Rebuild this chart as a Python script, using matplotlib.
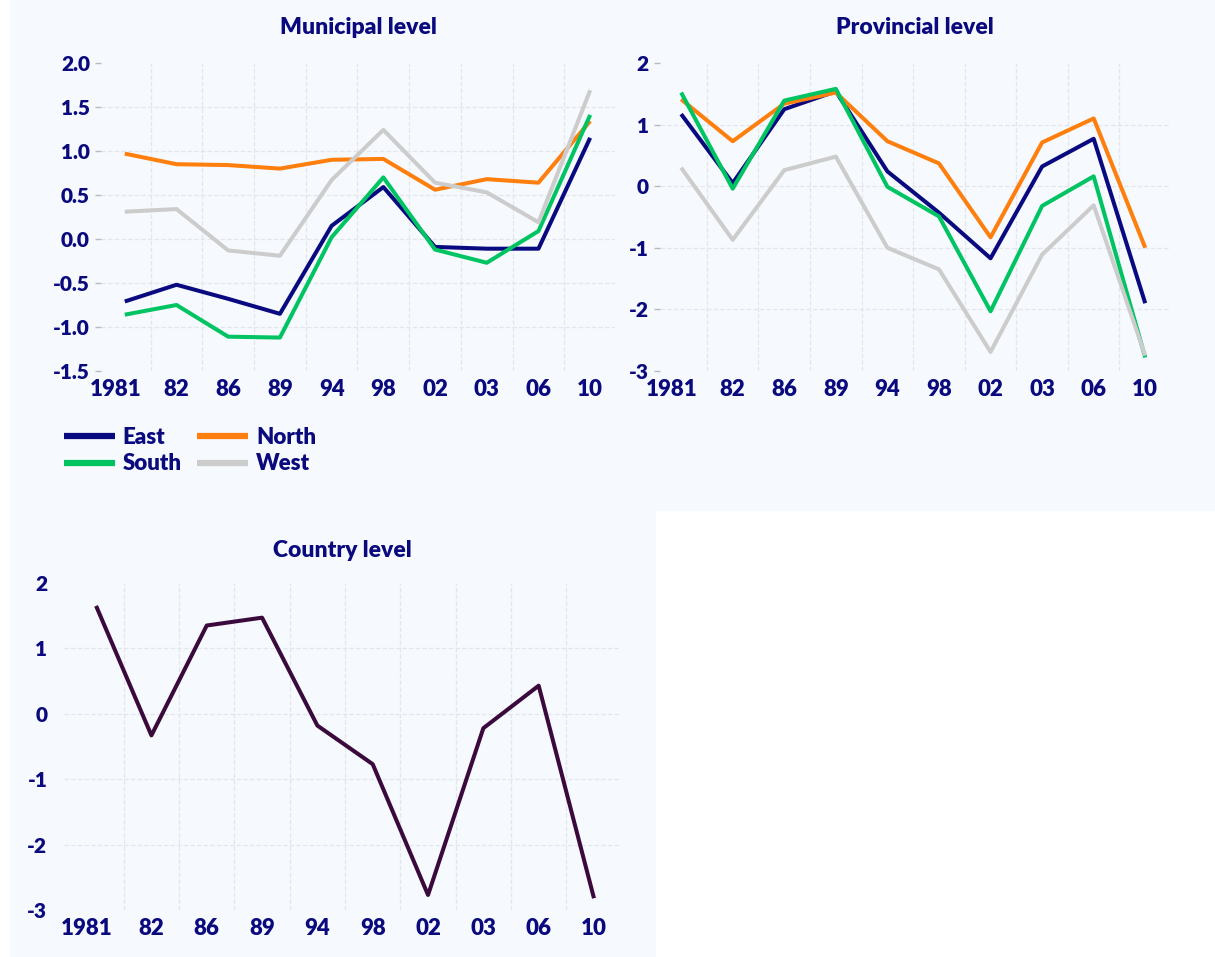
import numpy as np
import matplotlib
matplotlib.use("Agg")
import matplotlib.pyplot as plt
from matplotlib.patches import Rectangle
from matplotlib.transforms import ScaledTranslation

plt.rcParams['font.family'] = ['Lato', 'DejaVu Sans']
plt.rcParams['font.weight'] = 'heavy'

# data
years = ['1981', '82', '86', '89', '94', '98', '02', '03', '06', '10']
regions = ['East', 'North', 'South', 'West']

muni_east = [-0.71, -0.52, -0.68, -0.85, 0.15, 0.59, -0.09, -0.11, -0.11, 1.15]
muni_north = [0.97, 0.85, 0.84, 0.80, 0.90, 0.91, 0.56, 0.68, 0.64, 1.34]
muni_south = [-0.86, -0.75, -1.11, -1.12, 0.02, 0.70, -0.12, -0.27, 0.09, 1.41]
muni_west = [0.31, 0.34, -0.13, -0.19, 0.67, 1.24, 0.64, 0.53, 0.19, 1.69]

prov_east = [1.17, 0.05, 1.25, 1.54, 0.24, -0.43, -1.17, 0.32, 0.77, -1.90]
prov_north = [1.41, 0.73, 1.34, 1.52, 0.73, 0.37, -0.83, 0.71, 1.10, -1.00]
prov_south = [1.52, -0.04, 1.39, 1.58, -0.01, -0.49, -2.03, -0.32, 0.16, -2.78]
prov_west = [0.30, -0.87, 0.26, 0.48, -1.00, -1.35, -2.69, -1.11, -0.31, -2.75]

country = [1.65, -0.33, 1.35, 1.47, -0.18, -0.77, -2.77, -0.22, 0.43, -2.82]

muni_yticks = [-1.5, -1.0, -0.5, 0.0, 0.5, 1.0, 1.5, 2.0]
prov_yticks = [-3, -2, -1, 0, 1, 2]
country_yticks = [-3, -2, -1, 0, 1, 2]

colors = {'East': '#0a0a80', 'North': '#ff7f0e', 'South': '#00c462', 'West': '#cccccc'}
country_color = '#3a0a3c'
text_color = '#0a0a7e'
bg = '#f6f9fd'
grid_color = '#e4e6ee'

W, H = 1215, 957
fig = plt.figure(figsize=(W / 100, H / 100), dpi=100)
fig.patch.set_facecolor('white')


def box(l, t, r, b):
    return [l / W, 1 - b / H, (r - l) / W, (b - t) / H]


# panel backgrounds
fig.add_artist(Rectangle((10 / W, 1 - 511 / H), (1215 - 10) / W, 511 / H,
                         transform=fig.transFigure, facecolor=bg, edgecolor='none', zorder=0))
fig.add_artist(Rectangle((10 / W, 0), (656 - 10) / W, (957 - 511) / H,
                         transform=fig.transFigure, facecolor=bg, edgecolor='none', zorder=0))


def style_axes(ax, yticks, ylabels, xlim, title, tick_len, title_pad):
    x = np.arange(len(years))
    ax.set_facecolor('none')
    ax.set_xlim(*xlim)
    ax.set_ylim(yticks[0], yticks[-1])
    ax.set_xticks(x)
    ax.set_xticklabels(years)
    ax.set_xticks(x[:-1] + 0.5, minor=True)
    ax.set_yticks(yticks)
    ax.set_yticklabels(ylabels)
    for s in ax.spines.values():
        s.set_visible(False)
    ax.tick_params(axis='x', which='both', length=0, pad=6, labelsize=16, labelcolor=text_color)
    ax.tick_params(axis='y', length=tick_len, width=1, color='#bbbbbb', pad=4,
                   labelsize=15, labelcolor=text_color)
    ax.grid(axis='x', which='minor', color=grid_color, linestyle='--', linewidth=0.9)
    ax.grid(axis='y', which='major', color=grid_color, linestyle='--', linewidth=0.9)
    ax.grid(axis='x', which='major', visible=False)
    gl = ax.get_ygridlines()
    gl[0].set_visible(False)
    gl[-1].set_visible(False)
    # first year label sits a little to the left
    lab = ax.get_xticklabels()[0]
    lab.set_transform(lab.get_transform() + ScaledTranslation(-9 / 100, 0, fig.dpi_scale_trans))
    ax.set_title(title, fontsize=16.5, fontweight='heavy', color=text_color, pad=title_pad)


x = np.arange(len(years))

# Municipal level
ax1 = fig.add_axes(box(101, 63, 615, 371))
for name, vals in zip(regions, [muni_east, muni_north, muni_south, muni_west]):
    ax1.plot(x, vals, color=colors[name], lw=2.9, label=name, solid_capstyle='butt')
style_axes(ax1, muni_yticks, ['%.1f' % v for v in muni_yticks], (-0.46, 9.48),
           'Municipal level', 4, 21)

# Provincial level
ax2 = fig.add_axes(box(660, 63, 1170, 371))
for name, vals in zip(regions, [prov_east, prov_north, prov_south, prov_west]):
    ax2.plot(x, vals, color=colors[name], lw=2.9, label=name, solid_capstyle='butt')
style_axes(ax2, prov_yticks, [str(v) for v in prov_yticks], (-0.41, 9.48),
           'Provincial level', 4, 21)

# Country level
ax3 = fig.add_axes(box(64, 583, 620, 910))
ax3.plot(x, country, color=country_color, lw=2.9, solid_capstyle='butt')
style_axes(ax3, country_yticks, [str(v) for v in country_yticks], (-0.58, 9.47),
           'Country level', 0, 19)
ax3.tick_params(axis='y', pad=12)

# legend: East / North on first row, South / West on second
h = {l.get_label(): l for l in ax1.get_lines()}
order = ['East', 'South', 'North', 'West']
leg = fig.legend([h[k] for k in order], order, ncol=2, loc='upper left',
                 bbox_to_anchor=(55 / W, 1 - 418 / H), frameon=False,
                 fontsize=16, handlelength=2.3, handletextpad=0.35,
                 columnspacing=0.7, labelspacing=0.25, borderaxespad=0)
for t in leg.get_texts():
    t.set_color(text_color)
    t.set_fontweight('heavy')
for line in leg.get_lines():
    line.set_linewidth(4.5)

fig.savefig('out.png', dpi=100, facecolor='white')
